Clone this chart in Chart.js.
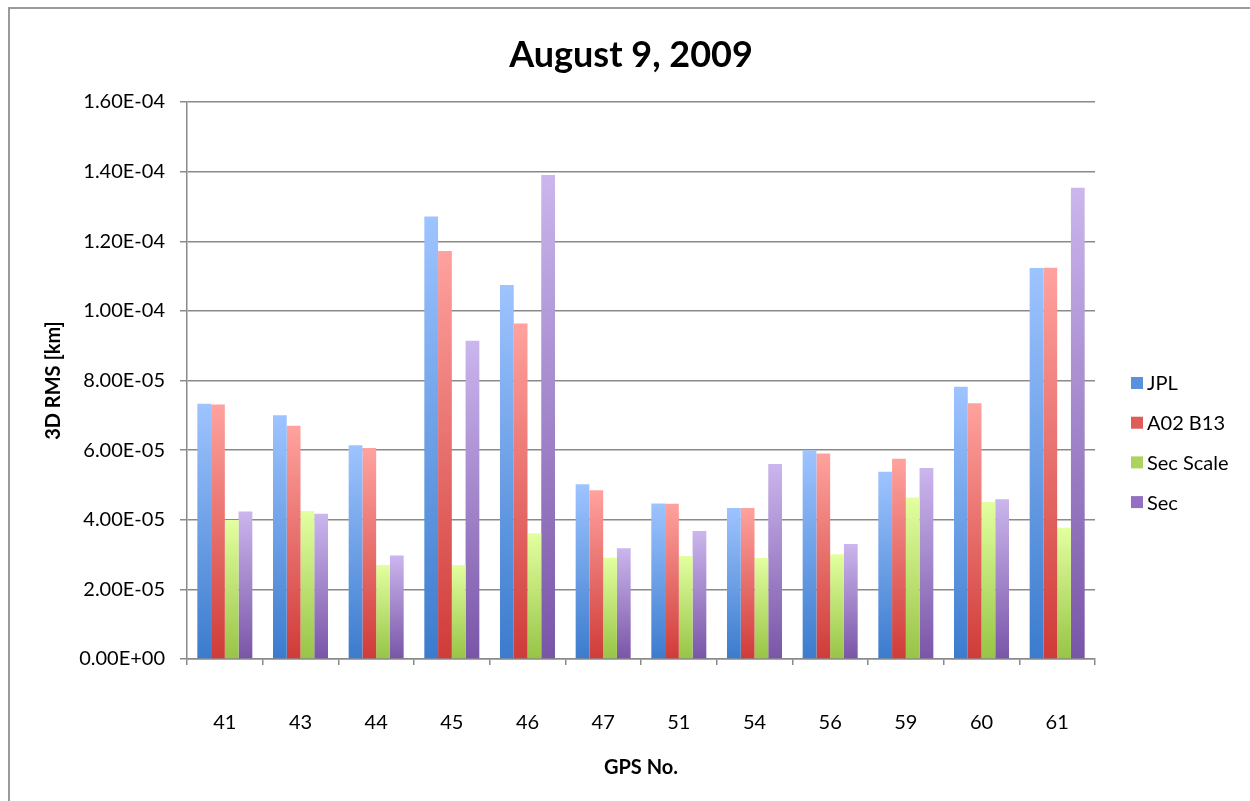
<!DOCTYPE html>
<html>
<head>
<meta charset="utf-8">
<title>August 9, 2009</title>
<script src="https://cdn.jsdelivr.net/npm/chart.js@4/dist/chart.umd.min.js"></script>
<style>
  html, body { margin: 0; padding: 0; background: #fff; }
  #wrap { width: 1250px; height: 801px; }
</style>
</head>
<body>
<div id="wrap"><canvas id="rmsChart" width="1250" height="801"></canvas></div>
<script>
// GPS satellite numbers
const gpsNumbers = ['41', '43', '44', '45', '46', '47', '51', '54', '56', '59', '60', '61'];

// 3D RMS [km]
const jplValues = [7.33e-5, 7.00e-5, 6.14e-5, 1.271e-4, 1.074e-4, 5.02e-5, 4.47e-5, 4.34e-5, 6.00e-5, 5.38e-5, 7.82e-5, 1.123e-4];
const a02b13Values = [7.31e-5, 6.70e-5, 6.06e-5, 1.172e-4, 9.64e-5, 4.85e-5, 4.46e-5, 4.34e-5, 5.90e-5, 5.75e-5, 7.35e-5, 1.124e-4];
const secScaleValues = [3.99e-5, 4.25e-5, 2.70e-5, 2.70e-5, 3.61e-5, 2.91e-5, 2.96e-5, 2.90e-5, 3.01e-5, 4.64e-5, 4.51e-5, 3.77e-5];
const secValues = [4.24e-5, 4.17e-5, 2.97e-5, 9.14e-5, 1.390e-4, 3.18e-5, 3.68e-5, 5.60e-5, 3.30e-5, 5.49e-5, 4.59e-5, 1.354e-4];

const yTicksMax = 1.6e-4;
const yTickStep = 2e-5;
const chartTitle = 'August 9, 2009';

const FONT = 'Lato, "Open Sans", "DejaVu Sans", sans-serif';
const GRID = '#8a8a8a';

// vertical gradient per bar, light at top -> dark at base
function barGradient(topColor, baseColor) {
    return function (ctx) {
        const chart = ctx.chart;
        const y = chart.scales && chart.scales.y;
        if (!y || ctx.raw == null) return baseColor;
        const yTop = y.getPixelForValue(ctx.raw);
        const yBase = y.getPixelForValue(0);
        if (!isFinite(yTop) || !isFinite(yBase) || yTop === yBase) return baseColor;
        const g = chart.ctx.createLinearGradient(0, yTop, 0, yBase);
        g.addColorStop(0, topColor);
        g.addColorStop(1, baseColor);
        return g;
    };
}

// Excel style scientific labels: 1.60E-04
function sciLabel(v) {
    if (Math.abs(v) < 1e-12) return '0.00E+00';
    const parts = v.toExponential(2).toUpperCase().split('E');
    const exp = parseInt(parts[1], 10);
    const sign = exp < 0 ? '-' : '+';
    const digits = String(Math.abs(exp)).padStart(2, '0');
    return parts[0] + 'E' + sign + digits;
}

const series = [
    { label: 'JPL', data: jplValues, top: '#9ec4ff', base: '#3b7bcd', swatch: '#5a91dc' },
    { label: 'A02 B13', data: a02b13Values, top: '#ffa29e', base: '#cf3b38', swatch: '#e05c58' },
    { label: 'Sec Scale', data: secScaleValues, top: '#e3ffa0', base: '#97c446', swatch: '#abd35e' },
    { label: 'Sec', data: secValues, top: '#cbb6ed', base: '#7955a7', swatch: '#9370c2' }
];

// frame of the chart box, title and legend on the right
const framePlugin = {
    id: 'frame',
    beforeDraw(chart) {
        const c = chart.ctx;
        c.save();
        c.fillStyle = '#fff';
        c.fillRect(0, 0, chart.width, chart.height);
        c.strokeStyle = '#9a9a9a';
        c.lineWidth = 2;
        c.beginPath();
        c.moveTo(9, chart.height);
        c.lineTo(9, 8);
        c.lineTo(chart.width, 8);
        c.stroke();
        c.restore();
    },
    afterDraw(chart) {
        const c = chart.ctx;
        c.save();
        c.fillStyle = '#000';
        c.font = 'bold 36px ' + FONT;
        c.textAlign = 'center';
        c.textBaseline = 'middle';
        c.fillText(chartTitle, 631, 55);

        c.font = '20px ' + FONT;
        c.textAlign = 'left';
        series.forEach((s, i) => {
            const cy = 384 + i * 39.7;
            c.fillStyle = s.swatch;
            c.fillRect(1131, cy - 7, 12, 12);
            c.fillStyle = '#000';
            c.fillText(s.label, 1147, cy);
        });
        c.restore();
    }
};

const ctx = document.getElementById('rmsChart').getContext('2d');
new Chart(ctx, {
    type: 'bar',
    data: {
        labels: gpsNumbers,
        datasets: series.map(s => ({
            label: s.label,
            data: s.data,
            backgroundColor: barGradient(s.top, s.base),
            borderWidth: 0,
            categoryPercentage: 0.727,
            barPercentage: 1.0
        }))
    },
    options: {
        responsive: false,
        animation: false,
        devicePixelRatio: 1,
        layout: { padding: { top: 102, left: 15, right: 155, bottom: 0 } },
        plugins: {
            legend: { display: false },
            tooltip: { enabled: false },
            title: { display: false }
        },
        scales: {
            x: {
                grid: {
                    offset: true,
                    drawOnChartArea: false,
                    drawTicks: true,
                    tickLength: 6,
                    color: GRID,
                    lineWidth: 1.5
                },
                border: { color: GRID, width: 1.5 },
                ticks: {
                    color: '#000',
                    padding: 46,
                    maxRotation: 0,
                    font: { family: FONT, size: 20 }
                },
                title: {
                    display: true,
                    text: 'GPS No.',
                    color: '#000',
                    font: { family: FONT, size: 20, weight: 'bold' },
                    padding: { top: 0, bottom: 21 }
                },
                afterFit(scale) { scale.height = 142; }
            },
            y: {
                min: 0,
                max: yTicksMax,
                grid: {
                    color: GRID,
                    lineWidth: 1.5,
                    tickLength: 7
                },
                border: { color: GRID, width: 1.5 },
                ticks: {
                    stepSize: yTickStep,
                    color: '#000',
                    padding: 15,
                    font: { family: FONT, size: 20 },
                    callback: v => sciLabel(v)
                },
                title: {
                    display: true,
                    text: '3D RMS [km]',
                    color: '#000',
                    font: { family: FONT, size: 20, weight: 'bold' },
                    padding: { top: 27, bottom: 0 }
                },
                afterFit(scale) { scale.width = 172; }
            }
        }
    },
    plugins: [framePlugin]
});
</script>
</body>
</html>
